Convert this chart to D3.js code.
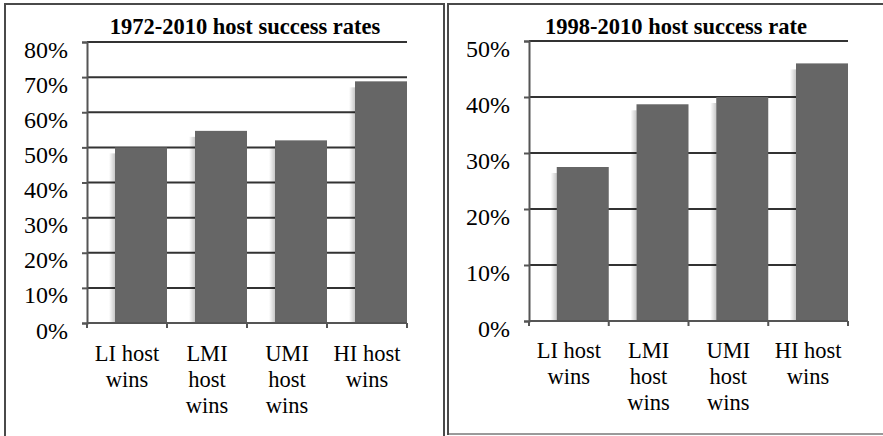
<!DOCTYPE html>
<html><head><meta charset="utf-8">
<script src="https://cdn.jsdelivr.net/npm/d3@7"></script>
<style>
body{margin:0;background:#fff;}
svg{display:block;font-family:"Liberation Serif","Times New Roman",serif;}
</style></head>
<body><svg id="c" width="883" height="436"></svg>
<script>
const categories = [["LI host","wins"],["LMI","host","wins"],["UMI","host","wins"],["HI host","wins"]];
const values1972 = [0.50, 0.547, 0.52, 0.688];
const values1998 = [0.275, 0.387, 0.40, 0.46];
const ticks1972 = [0,0.1,0.2,0.3,0.4,0.5,0.6,0.7,0.8];
const ticks1998 = [0,0.1,0.2,0.3,0.4,0.5];
const titles = ["1972-2010 host success rates","1998-2010 host success rate"];

const svg = d3.select("#c");
const defs = svg.append("defs");
const g = defs.append("linearGradient").attr("id","sh").attr("x1","0").attr("x2","1");
g.append("stop").attr("offset","0").attr("stop-color","#000").attr("stop-opacity",0);
g.append("stop").attr("offset","1").attr("stop-color","#000").attr("stop-opacity",0.22);

// frames
svg.append("path").attr("d","M5,436V4H444V436").attr("fill","none").attr("stroke","#4a4a4a").attr("stroke-width",2);
svg.append("path").attr("d","M884,4H448V434H884").attr("fill","none").attr("stroke","#4a4a4a").attr("stroke-width",2);
svg.append("line").attr("x1",449).attr("x2",884).attr("y1",434).attr("y2",434).attr("stroke","#9a9a9a").attr("stroke-width",2);

function panel(cfg){
  const {x0,x1,y0,y1,max,ticks,vals,title,titleX,labY} = cfg;
  const x = d3.scaleBand().domain(d3.range(4)).range([x0,x1]);
  const y = d3.scaleLinear().domain([0,max]).range([y0,y1]);
  const p = svg.append("g");
  p.selectAll(".grid").data(ticks.filter(t=>t>0)).join("line")
    .attr("x1",x0).attr("x2",x1).attr("y1",d=>y(d)).attr("y2",d=>y(d))
    .attr("stroke","#333").attr("stroke-width",2);
  const bw = 52, off = x.bandwidth()-bw;
  p.selectAll(".sh").data(vals).join("rect")
    .attr("x",(d,i)=>x(i)+off-6).attr("width",6)
    .attr("y",d=>y(d)+6).attr("height",d=>y(0)-y(d)-6)
    .attr("fill","url(#sh)");
  p.selectAll(".bar").data(vals).join("rect")
    .attr("x",(d,i)=>x(i)+off).attr("width",bw)
    .attr("y",d=>y(d)).attr("height",d=>y(0)-y(d))
    .attr("fill","#666");
  const ya = d3.axisLeft(y).tickValues(ticks).tickFormat(d3.format(".0%")).tickSize(5).tickPadding(14);
  const yg = p.append("g").attr("transform",`translate(${x0},0)`).call(ya);
  yg.attr("font-family",null);
  yg.select(".domain").attr("stroke","#555").attr("stroke-width",2);
  yg.selectAll(".tick line").attr("stroke","#555").attr("stroke-width",2);
  yg.selectAll(".tick text").attr("font-size",24).attr("fill","#000").attr("dy",15);
  p.append("line").attr("x1",x0).attr("x2",x1).attr("y1",y0).attr("y2",y0).attr("stroke","#555").attr("stroke-width",2);
  p.selectAll(".xt").data(d3.range(5)).join("line")
    .attr("x1",d=>x0+d*x.bandwidth()).attr("x2",d=>x0+d*x.bandwidth())
    .attr("y1",y0).attr("y2",y0+5).attr("stroke","#555").attr("stroke-width",2);
  categories.forEach((lines,i)=>{
    const t = p.append("text").attr("text-anchor","middle").attr("font-size",22.5).attr("fill","#000");
    lines.forEach((l,j)=>t.append("tspan").attr("x",x(i)+x.bandwidth()/2).attr("y",labY+j*26).text(l));
  });
  p.append("text").attr("x",titleX).attr("y",34).attr("text-anchor","middle")
    .attr("font-size",22.5).attr("font-weight","bold").attr("fill","#000").text(title);
}
panel({x0:87,x1:407,y0:323,y1:42,max:0.8,ticks:ticks1972,vals:values1972,title:titles[0],titleX:245,labY:361});
panel({x0:529,x1:848,y0:321,y1:41,max:0.5,ticks:ticks1998,vals:values1998,title:titles[1],titleX:676,labY:358});
</script></body></html>
